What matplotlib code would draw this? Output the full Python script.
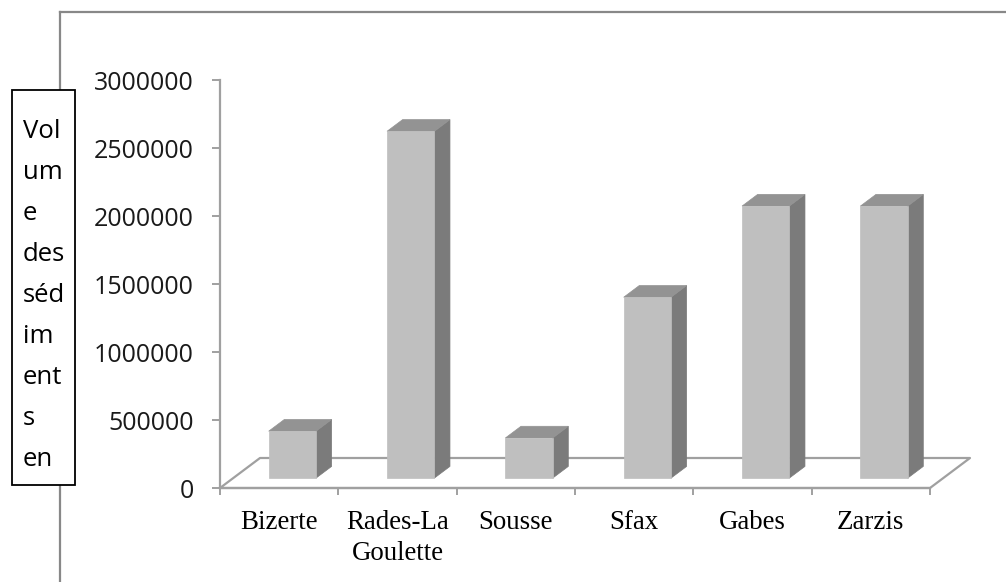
import matplotlib
matplotlib.use("Agg")
import matplotlib.pyplot as plt
from matplotlib.patches import Polygon, Rectangle
from matplotlib.lines import Line2D

# ---- data ----
categories = ["Bizerte", "Rades-La\nGoulette", "Sousse", "Sfax", "Gabes", "Zarzis"]
volumes = [345000, 2550000, 295000, 1330000, 2000000, 2000000]
y_ticks = [0, 500000, 1000000, 1500000, 2000000, 2500000, 3000000]
y_title_lines = ["Vol", "um", "e", "des", "séd", "im", "ent", "s", "en"]

W, H = 1006, 582
fig = plt.figure(figsize=(W / 100, H / 100), dpi=100)

# axes = front plane of the 3D box (pixel layout)
left, right, bottom, top = 220, 930, 488, 80
ax = fig.add_axes([left / W, (H - bottom) / H, (right - left) / W, (bottom - top) / H])
n = len(categories)
ax.set_xlim(0, n)
ax.set_ylim(0, 3000000)

# oblique depth offset (40 px right, 30 px up for full depth)
DX = 40 / ((right - left) / n)
DY = 30 / ((bottom - top) / 3000000)

def P(x, v, d):
    return (x + d * DX, v + d * DY)

grey = "#a0a0a0"
# floor
floor = [P(0, 0, 0), P(n, 0, 0), P(n, 0, 1), P(0, 0, 1), P(0, 0, 0)]
ax.add_line(Line2D([p[0] for p in floor], [p[1] for p in floor], color=grey,
                   lw=1.6, clip_on=False, zorder=1))

# bars
d0, d1, hw = 0.33, 0.72, 0.2
front_c, side_c, top_c = "#bfbfbf", "#7b7b7b", "#939393"
for i, v in enumerate(volumes):
    c = i + 0.5
    front = [P(c - hw, 0, d0), P(c + hw, 0, d0), P(c + hw, v, d0), P(c - hw, v, d0)]
    side = [P(c + hw, 0, d0), P(c + hw, 0, d1), P(c + hw, v, d1), P(c + hw, v, d0)]
    topf = [P(c - hw, v, d0), P(c + hw, v, d0), P(c + hw, v, d1), P(c - hw, v, d1)]
    for poly, col in ((side, side_c), (topf, top_c), (front, front_c)):
        ax.add_patch(Polygon(poly, closed=True, facecolor=col, edgecolor=col,
                             lw=0.5, clip_on=False, zorder=3))

# axes styling
for s in ("top", "right"):
    ax.spines[s].set_visible(False)
ax.spines["left"].set_color(grey)
ax.spines["left"].set_linewidth(1.6)
ax.spines["bottom"].set_color(grey)
ax.spines["bottom"].set_linewidth(1.6)
ax.patch.set_alpha(0)

sans = "Open Sans"
ax.set_yticks(y_ticks)
ax.set_yticklabels([str(t) for t in y_ticks], family=sans, fontsize=18, color="#1a1a1a")
ax.tick_params(axis="y", direction="out", length=5.8, width=1.4, color=grey, pad=13)

ax.set_xticks(range(n + 1))
ax.set_xticklabels([""] * (n + 1))
ax.set_xticks([i + 0.5 for i in range(n)], minor=True)
ax.set_xticklabels(categories, minor=True, family="Liberation Serif", fontsize=19.4,
                   color="#000000", linespacing=1.28)
ax.tick_params(axis="x", which="major", direction="out", length=5, width=1.4, color=grey)
ax.tick_params(axis="x", which="minor", length=0, pad=16)

# outer frame
frame_c = "#888888"
fig.add_artist(Line2D([60 / W, 1.0], [1 - 12 / H, 1 - 12 / H], color=frame_c, lw=1.6))
fig.add_artist(Line2D([60 / W, 60 / W], [1 - 12 / H, 0.0], color=frame_c, lw=1.6))

# y-title box
fig.add_artist(Rectangle((12 / W, 1 - 485 / H), 63 / W, 395 / H, facecolor="white",
                         edgecolor="black", lw=1.3, zorder=5))
for i, t in enumerate(y_title_lines):
    fig.text(23 / W, 1 - (138 + i * 41) / H, t, family=sans, fontsize=18.5,
             ha="left", va="baseline", color="black", zorder=6)

fig.savefig("out.png", dpi=100)
